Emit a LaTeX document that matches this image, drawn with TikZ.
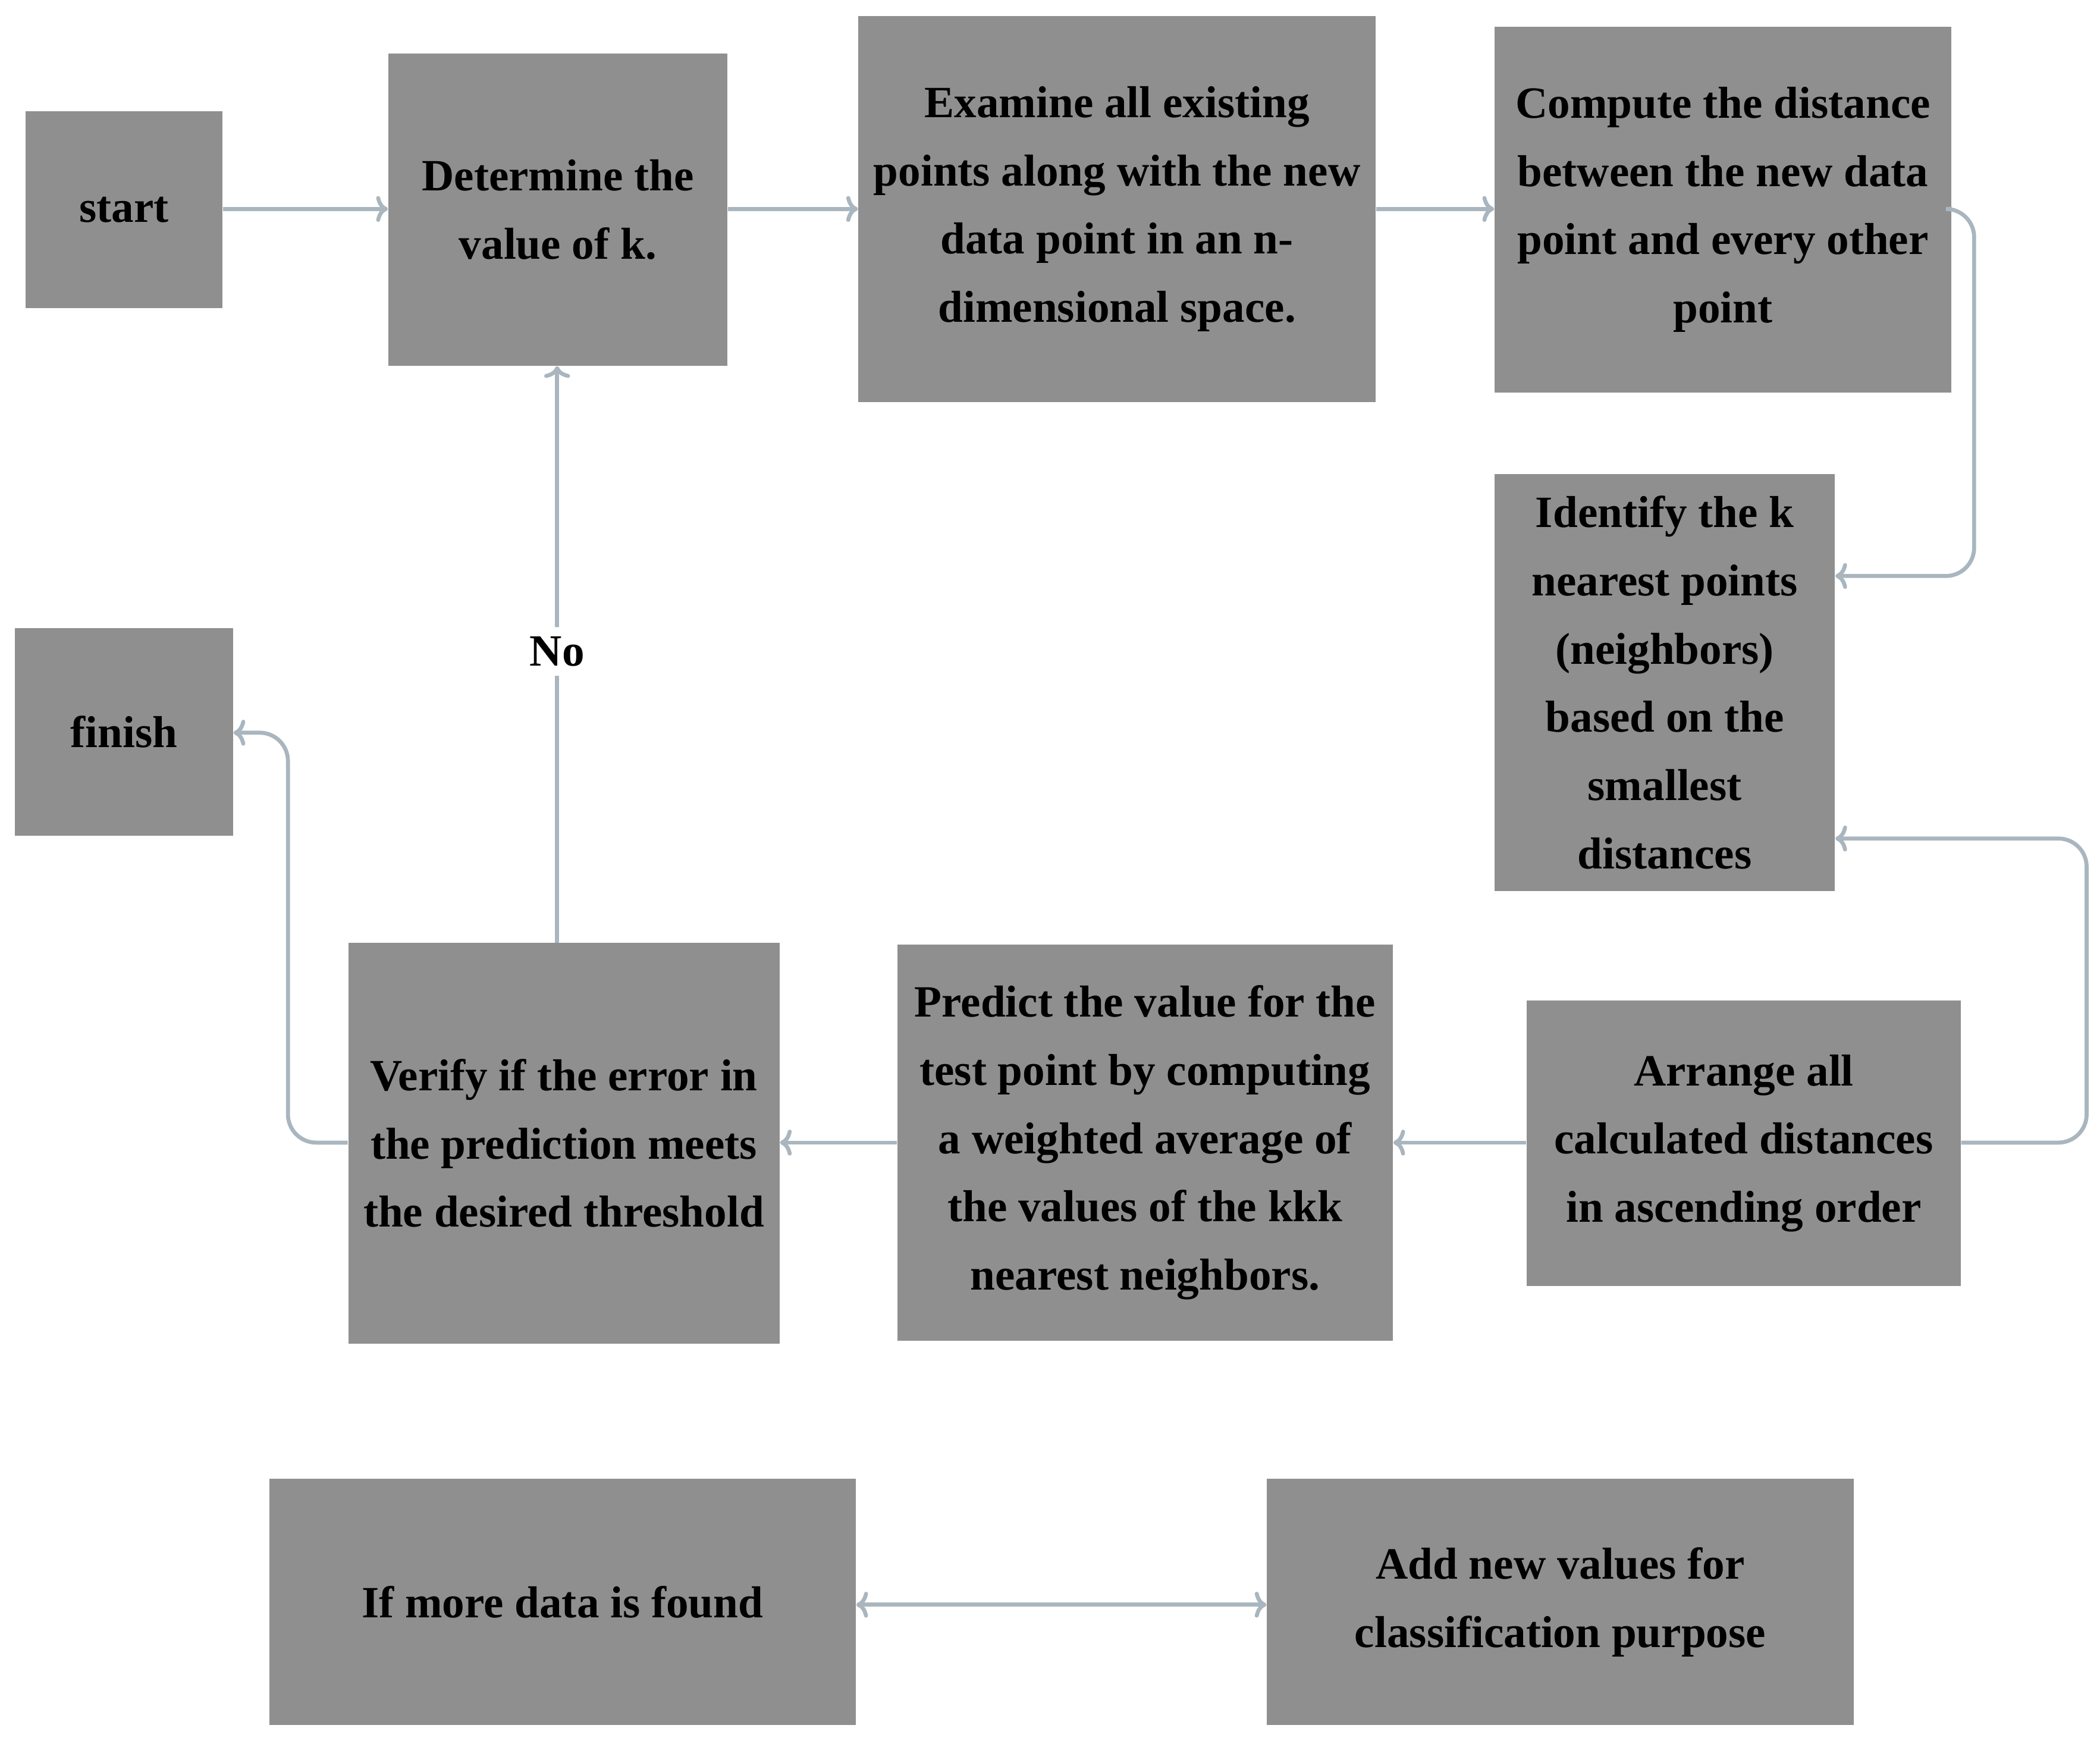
\documentclass[tikz,border=0pt]{standalone}
\usepackage{fontspec}
\setmainfont{Liberation Serif}
\usetikzlibrary{arrows.meta}
\definecolor{boxg}{HTML}{8F8F8F}
\definecolor{linec}{HTML}{A9B6BF}
\begin{document}
\begin{tikzpicture}[x=0.02cm,y=-0.02cm,
  bx/.style={fill=boxg,draw=none,align=center,font=\fontsize{19}{29}\selectfont\bfseries,inner sep=0pt},
  conn/.style={draw=linec,line width=1.7pt,-{To[length=5pt,width=11pt]},rounded corners=12pt}]
\useasboundingbox (0,0) rectangle (1568,1304);
\newcommand{\boxat}[6]{\node[bx,minimum width=#4*0.02cm-#2*0.02cm,minimum height=#5*0.02cm-#3*0.02cm] (#1) at ({(#2+#4)/2},{(#3+#5)/2}) {#6};}
\boxat{start}{19}{83}{166}{230}{start}
\boxat{det}{290}{40}{543}{273}{Determine the\\value of k.}
\boxat{exa}{641}{12}{1027}{300}{Examine all existing\\points along with the new\\data point in an n-\\dimensional space.}
\boxat{comp}{1116}{20}{1457}{293}{Compute the distance\\between the new data\\point and every other\\point}
\boxat{iden}{1116}{354}{1370}{665}{Identify the k\\nearest points\\(neighbors)\\based on the\\smallest\\distances}
\boxat{fin}{11}{469}{174}{624}{finish}
\boxat{ver}{260}{704}{582}{1003}{Verify if the error in\\the prediction meets\\the desired threshold}
\boxat{pred}{670}{705}{1040}{1001}{Predict the value for the\\test point by computing\\a weighted average of\\the values of the kkk\\nearest neighbors.}
\boxat{arr}{1140}{747}{1464}{960}{Arrange all\\calculated distances\\in ascending order}
\boxat{more}{201}{1104}{639}{1288}{If more data is found}
\boxat{add}{946}{1104}{1384}{1288}{Add new values for\\classification purpose}
\draw[conn] (start.east |- 0,156) -- (det.west |- 0,156);
\draw[conn] (det.east |- 0,156) -- (exa.west |- 0,156);
\draw[conn] (exa.east |- 0,156) -- (comp.west |- 0,156);
\draw[conn] (comp.east |- 0,156) -- (1474,156) -- (1474,430) -- (iden.east |- 0,430);
\draw[conn] (arr.east |- 0,853) -- (1558,853) -- (1558,626) -- (iden.east |- 0,626);
\draw[conn] (arr.west |- 0,853) -- (pred.east |- 0,853);
\draw[conn] (pred.west |- 0,853) -- (ver.east |- 0,853);
\draw[conn] (ver.north -| 416,0) -- node[pos=0.505,fill=white,font=\fontsize{19}{29}\selectfont\bfseries,inner sep=4pt]{No} (det.south -| 416,0);
\draw[conn] (ver.west |- 0,853) -- (215,853) -- (215,547) -- (fin.east |- 0,547);
\draw[conn,{To[length=5pt,width=11pt]}-{To[length=5pt,width=11pt]}] (more.east |- 0,1198) -- (add.west |- 0,1198);
\end{tikzpicture}
\end{document}
